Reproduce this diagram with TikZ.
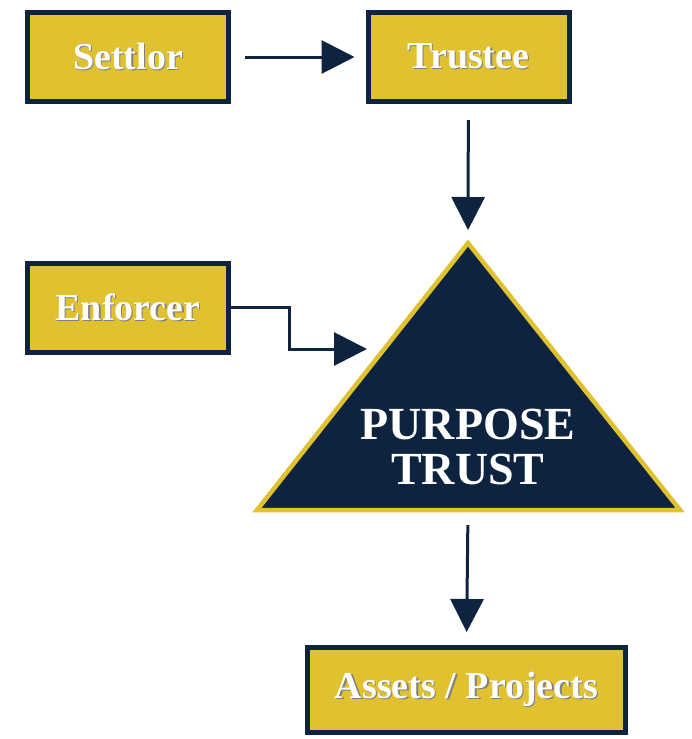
\documentclass[tikz,border=0pt]{standalone}
\usepackage{fontspec}
\setmainfont{Liberation Serif}
\usetikzlibrary{arrows.meta}
\definecolor{trustnavy}{RGB}{14, 35, 64}
\definecolor{trustgold}{RGB}{224, 193, 48}
% white lettering with a small drop shadow
\newcommand\shadowed[1]{\leavevmode\rlap{\kern1.3pt\raisebox{-1.3pt}{\color{black!50}#1}}#1}

\tikzset{
  party/.style={draw=trustnavy, fill=trustgold, line width=5pt, inner sep=0pt,
    minimum width=201pt, minimum height=89pt, text=white,
    font=\fontsize{38}{40}\selectfont\bfseries},
  flow/.style={draw=trustnavy, line width=3pt,
    -{Triangle[length=33pt, width=33pt]}, trustnavy}
}

\begin{document}
\begin{tikzpicture}[x=1pt, y=-1pt, >=Latex]
    \useasboundingbox (0,0) rectangle (692,739);
    % the parties
    \node[party] (settlor) at (128, 57) {\shadowed{Settlor}};
    \node[party] (trustee) at (468.5, 57) {\shadowed{Trustee}};
    \node[party] (enforcer) at (128, 307.5) {\shadowed{Enforcer}};
    \node[party, minimum width=318pt, minimum height=85pt] (assets) at (466.5, 690) {\shadowed{Assets / Projects}};
    % the trust itself
    \coordinate (apex) at (468, 243);
    \coordinate (base) at (468, 510);
    \coordinate (entry) at (367, 349);
    \draw[trustgold, fill=trustnavy, line width=4.5pt, line join=miter]
      (apex) -- (680, 510) -- (257, 510) -- cycle;
    \node[text=white, align=center, font=\fontsize{46}{45}\selectfont\bfseries] (trust) at (468, 447) {PURPOSE\\TRUST};
    % connectors
    \draw[flow, shorten <=14pt, shorten >=11pt] (settlor) -- (trustee);
    \draw[flow, shorten <=16pt, shorten >=13pt] (trustee) -- (apex);
    \draw[flow] (enforcer.east) -- ++(58, 0) |- (entry);
    \draw[flow, shorten <=15pt, shorten >=13pt] (base) -- (assets.north);
  \end{tikzpicture}
\end{document}
